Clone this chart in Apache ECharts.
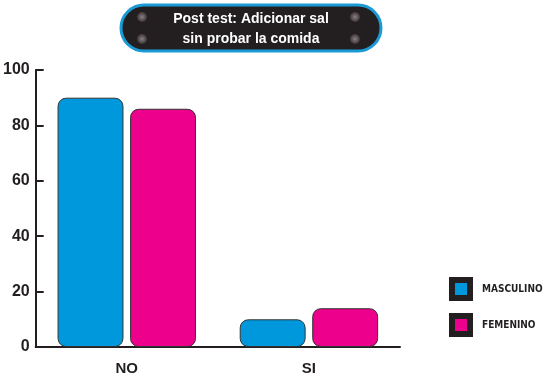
<!DOCTYPE html>
<html><head><meta charset="utf-8">
<script src="https://cdn.jsdelivr.net/npm/echarts@6/dist/echarts.min.js"></script>
<style>html,body{margin:0;padding:0;background:#fff}#c{width:546px;height:381px}</style>
</head><body><div id="c"></div>
<script>
const categories = ['NO', 'SI'];
const masculino = [90, 10];
const femenino = [86, 14];
const titleLines = ['Post test: Adicionar sal', 'sin probar la comida'];
const seriesNames = ['MASCULINO', 'FEMENINO'];

const chart = echarts.init(document.getElementById('c'), null, {renderer: 'canvas'});
const dark = '#231f20';
const barStyle = (c) => ({color: c, borderColor: '#333', borderWidth: 1, borderRadius: 8});
const screw = (x, y) => ({type: 'circle', shape: {cx: x, cy: y, r: 5},
  style: {fill: new echarts.graphic.RadialGradient(0.5, 0.5, 0.5, [{offset: 0, color: '#8a8085'}, {offset: 1, color: '#3d3538'}])}, z: 101});
chart.setOption({
  animation: false,
  grid: {left: 34, right: 146, top: 70, bottom: 34, containLabel: false},
  legend: {
    orient: 'vertical', left: 444, top: 272, itemWidth: 18, itemHeight: 18, itemGap: 12,
    icon: 'rect', selectedMode: false,
    itemStyle: {borderColor: dark, borderWidth: 6, borderRadius: 0},
    textStyle: {fontFamily: 'DejaVu Sans Condensed', fontWeight: 'bold', fontSize: 10, color: dark, padding: [0, 0, 0, 7], lineHeight: 18},
    data: seriesNames
  },
  xAxis: {
    type: 'category', data: categories,
    axisLine: {lineStyle: {color: dark, width: 2}},
    axisTick: {inside: true, length: 6, lineStyle: {color: dark, width: 2}},
    axisLabel: {color: dark, fontFamily: 'Liberation Sans', fontWeight: 'bold', fontSize: 15, margin: 14}
  },
  yAxis: {
    type: 'value', min: 0, max: 100, interval: 20,
    splitLine: {show: false},
    axisLine: {show: true, lineStyle: {color: dark, width: 2}},
    axisTick: {show: true, inside: true, length: 8, lineStyle: {color: dark, width: 2}},
    axisLabel: {color: dark, fontFamily: 'Liberation Sans', fontWeight: 'bold', fontSize: 16, margin: 6}
  },
  series: [
    {name: seriesNames[0], type: 'bar', data: masculino, itemStyle: barStyle('#0098dc'), barGap: '10%', barCategoryGap: '24%'},
    {name: seriesNames[1], type: 'bar', data: femenino, itemStyle: barStyle('#ec008c')}
  ],
  graphic: [
    {type: 'rect', shape: {x: 121, y: 5, width: 260, height: 46, r: 23},
      style: {fill: dark, stroke: '#1b9ad6', lineWidth: 3}, z: 100},
    screw(142, 17), screw(142, 39), screw(355, 17), screw(355, 39),
    {type: 'text', x: 251, y: 19, z: 102,
      style: {text: titleLines[0], fill: '#fff', font: 'bold 14px "Liberation Sans"', align: 'center', verticalAlign: 'middle'}},
    {type: 'text', x: 251, y: 39, z: 102,
      style: {text: titleLines[1], fill: '#fff', font: 'bold 14px "Liberation Sans"', align: 'center', verticalAlign: 'middle'}}
  ]
});
</script></body></html>
